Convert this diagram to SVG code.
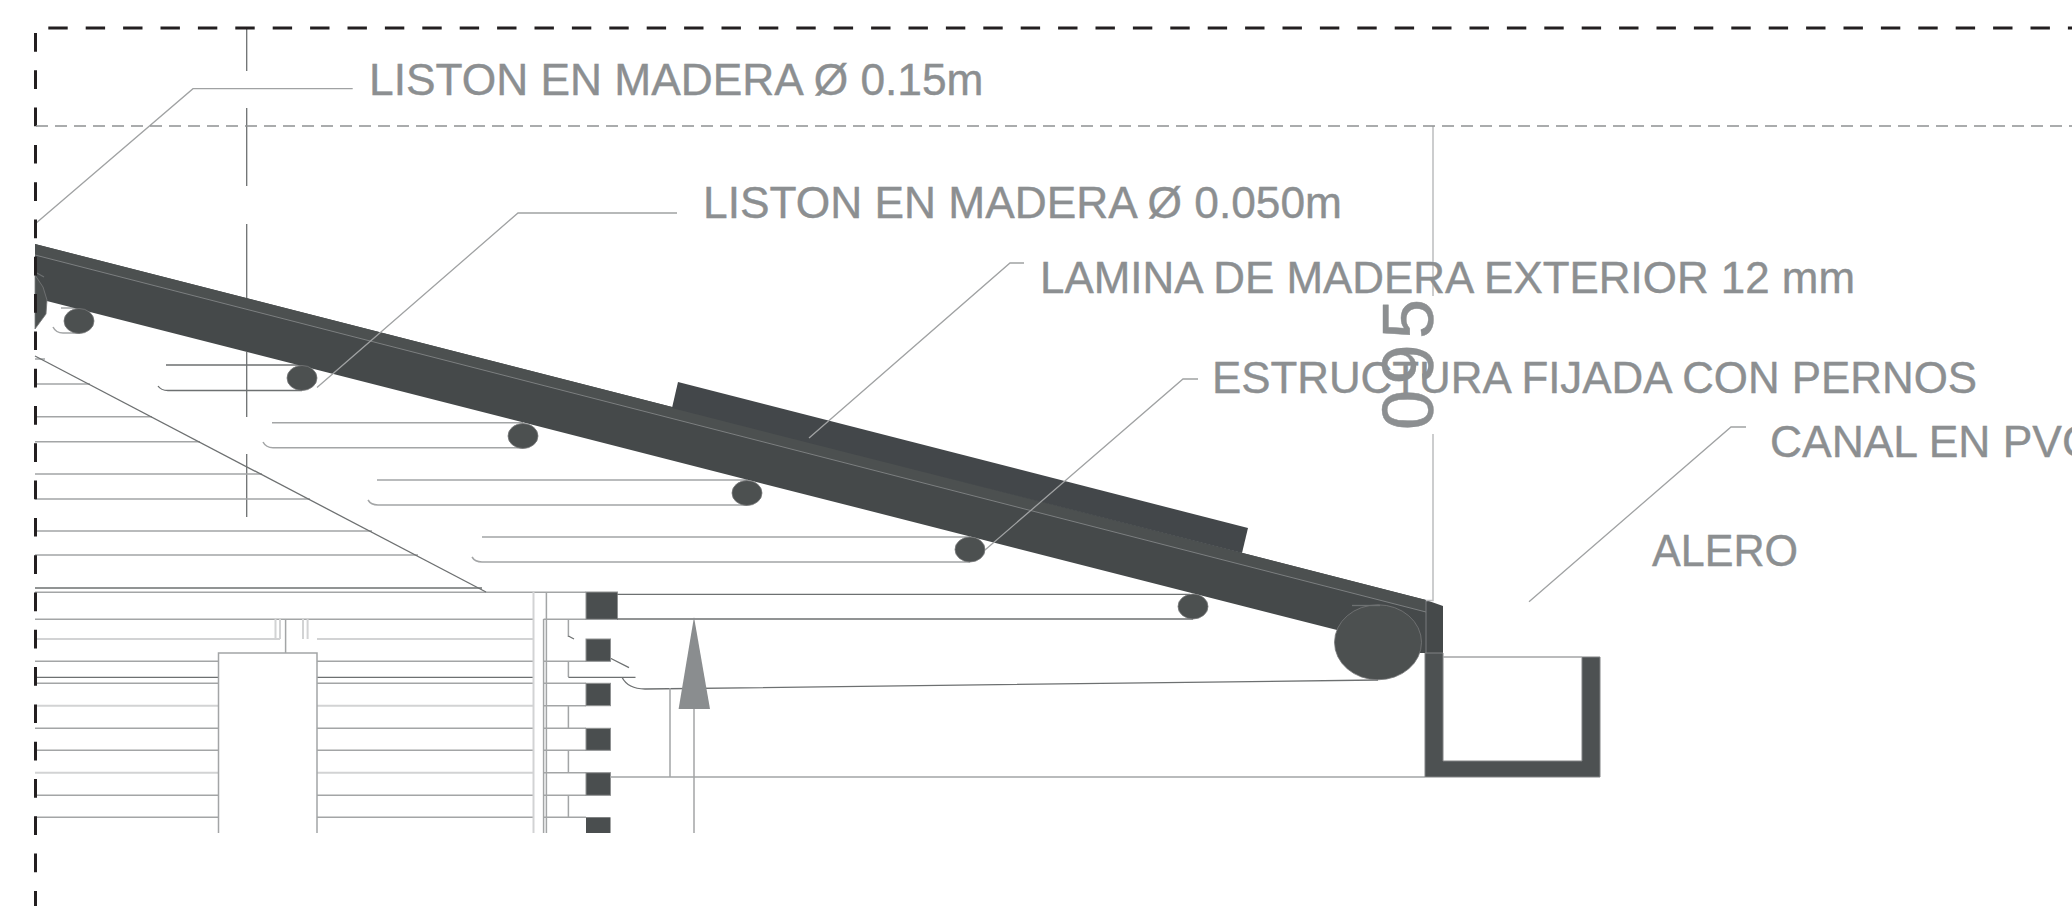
<svg xmlns="http://www.w3.org/2000/svg" width="2072" height="906" viewBox="0 0 2072 906">
<style>
.t{font-family:"Liberation Sans",Arial,sans-serif;font-size:44.5px;fill:#8c8f91;stroke:#8c8f91;stroke-width:.4}
.l{fill:none;stroke:#a3a5a6;stroke-width:1.5}
.lt{fill:none;stroke:#d2d3d4;stroke-width:2}
.dk{fill:none;stroke:#6d7071;stroke-width:1.3}
.lead{fill:none;stroke:#a0a2a3;stroke-width:1.3}
.sq{fill:#4a4e4f;stroke:#8f9192;stroke-width:1}
.c{fill:#4c5050;stroke:#77797a;stroke-width:.8}
</style>
<rect width="2072" height="906" fill="#fff"/>
<g id="centerline"><path class="dk" d="M246.7 28V71M246.7 108V186M246.7 224V300M246.7 352V417M246.7 454V517"/></g>
<g id="hatch">
<path class="l" d="M35 359H45M35 384H90M35 416.7H152M35 441.7H200M35 474H262M35 499H310M35 531H372M35 555H418"/>
<path class="dk" d="M35 588H482"/>
<path class="l" d="M35 592.3H586M35 619.3H533.5M35 661.3H218.5M35 683.3H218.5M35 728.3H218.5M35 750.3H218.5M35 795.3H218.5M35 817.3H218.5"/>
<path class="l" d="M317 661.3H533.5M317 683.3H533.5M317 728.3H533.5M317 750.3H533.5M317 795.3H533.5M317 817.3H533.5"/>
<path class="lt" d="M35 639H280M35 705.7H218.5M35 772.7H218.5M317 639H533.5M317 705.7H533.5M317 772.7H533.5"/>
<path class="dk" d="M35 677.3H218.5M317 677.3H533.5"/>
<path class="dk" d="M35 356L486 592"/>
</g>
<g id="column">
<path class="l" d="M218.5 833V653H317V833"/>
<path class="lt" d="M275.5 619V639M280 619V639M303 619V639M307.6 619V639"/>
<path class="l" d="M285.6 619V653"/>
</g>
<g id="wall">
<path class="lt" d="M533.5 592V833"/>
<path class="l" d="M543.6 619V833M546.4 592V833"/>
<path class="l" d="M543.6 619.3H586M543.6 661.3H586M543.6 683.3H586M543.6 705.7H586M543.6 728.3H586M543.6 750.3H586M543.6 772.7H586M543.6 795.3H586M543.6 817.3H586"/>
<path class="l" d="M568.4 619V637M568.4 661V677M568.4 705.7V728M568.4 750.3V773M568.4 795.3V817"/>
<path class="dk" d="M568.4 636L574 639M568.4 677.3H635.5M610 658L629 667.7"/>
</g>
<g id="squares">
<rect class="sq" x="586" y="592" width="31.5" height="27.3"/>
<rect class="sq" x="586" y="639" width="24.5" height="22.3"/>
<rect class="sq" x="586" y="683.3" width="24.5" height="22.4"/>
<rect class="sq" x="586" y="728.3" width="24.5" height="22"/>
<rect class="sq" x="586" y="772.7" width="24.5" height="22.6"/>
<rect x="586" y="817.3" width="24.5" height="15.7" fill="#4a4e4f"/>
</g>
<g id="rafters">
<path class="l" d="M61 308H80M53 327Q56 333 63 333H80"/>
<path class="dk" d="M166 365H302M158 386Q161 390.5 168 390.5H302"/>
<path class="l" d="M272 422.7H523M263 442Q266 447.7 273 447.7H523"/>
<path class="l" d="M377 480H747M368 500Q371 505 378 505H747"/>
<path class="l" d="M482 537H970M472 557Q475 562 482 562H970"/>
<path class="dk" d="M617 594.3H1190M617 619H1193"/>
</g>
<g id="eave-lines">
<path class="dk" d="M622 677.3Q628 689 645 689L1378 680"/>
<path class="l" d="M610 777H1425M670 688V777"/>
</g>
<g id="roof">
<path d="M35 244L1426 600L1443 606V653H1420L1337 630L35 298Z" fill="#45494a"/>
<path d="M35 244L1426 600V612L35 255Z" fill="#4c5050"/>
<path d="M35 255L1426 612" stroke="#7c7f80" stroke-width="1" fill="none"/>
<path d="M1426 600V653" stroke="#787b7c" stroke-width="1"/>
</g>
<g id="plate"><path d="M678 382L1248 528L1242 553L672 408Z" fill="#43474a"/></g>
<g id="battens">
<ellipse class="c" cx="79" cy="321" rx="15" ry="12.5"/>
<ellipse class="c" cx="302" cy="378" rx="15" ry="12.5"/>
<ellipse class="c" cx="523" cy="436" rx="15" ry="12.5"/>
<ellipse class="c" cx="747" cy="493" rx="15" ry="12.5"/>
<ellipse class="c" cx="970" cy="549.5" rx="15" ry="12.5"/>
<ellipse class="c" cx="1193" cy="606.5" rx="15" ry="12.5"/>
<path class="c" d="M35 275L43 287L47 300L46 314L35 329Z"/>
<path class="dk" d="M35 272L44 277"/>
</g>
<g id="big-log">
<ellipse class="c" cx="1378" cy="642.3" rx="43.5" ry="37.5"/>
<path class="dk" d="M1352 605.5H1380"/>
</g>
<g id="channel">
<path d="M1425 653H1443V761H1582V657H1600V777H1425Z" fill="#4d5152" stroke="#808283" stroke-width="1"/>
<path class="l" d="M1443 657H1582"/>
</g>
<g id="arrow">
<path d="M694 617L710 709H678.6Z" fill="#8a8d8f"/>
<path class="l" d="M694 709V833"/>
</g>
<g id="connectors">
<path class="lead" d="M352.7 88.7H193L35 224"/>
<path class="lead" d="M677 213H518L317 387.5"/>
<path class="lead" d="M1024 263H1010L809 438"/>
<path class="lead" d="M1198 379H1183L985 550"/>
<path class="lead" d="M1746 427H1731L1529 601.7"/>
<path style="fill:none;stroke:#bcbdbe;stroke-width:1.5" d="M1433 126V296M1433 434V600.5H1426"/>
</g>
<g id="frame">
<path d="M48.3 28H2072" fill="none" stroke="#231f20" stroke-width="3" stroke-dasharray="19.4 18"/>
<path d="M35.5 33V906" fill="none" stroke="#231f20" stroke-width="3" stroke-dasharray="18.7 18.6"/>
<path d="M36 126H2072" fill="none" stroke="#8f9192" stroke-width="1.3" stroke-dasharray="12 7"/>
</g>
<g id="labels">
<text class="t" x="369" y="95" textLength="614.5" lengthAdjust="spacingAndGlyphs">LISTON EN MADERA Ø 0.15m</text>
<text class="t" x="703" y="218" textLength="639" lengthAdjust="spacingAndGlyphs">LISTON EN MADERA Ø 0.050m</text>
<text class="t" x="1040" y="293" textLength="815" lengthAdjust="spacingAndGlyphs">LAMINA DE MADERA EXTERIOR 12 mm</text>
<text class="t" x="1212" y="393" textLength="765" lengthAdjust="spacingAndGlyphs">ESTRUCTURA FIJADA CON PERNOS</text>
<text class="t" x="1770" y="457" textLength="324" lengthAdjust="spacingAndGlyphs">CANAL EN PVC</text>
<text class="t" x="1652" y="565.5" textLength="146" lengthAdjust="spacingAndGlyphs">ALERO</text>
<text class="t" style="font-size:72px;letter-spacing:5.5px" transform="translate(1433 430) rotate(-90)">095</text>
</g>
</svg>
